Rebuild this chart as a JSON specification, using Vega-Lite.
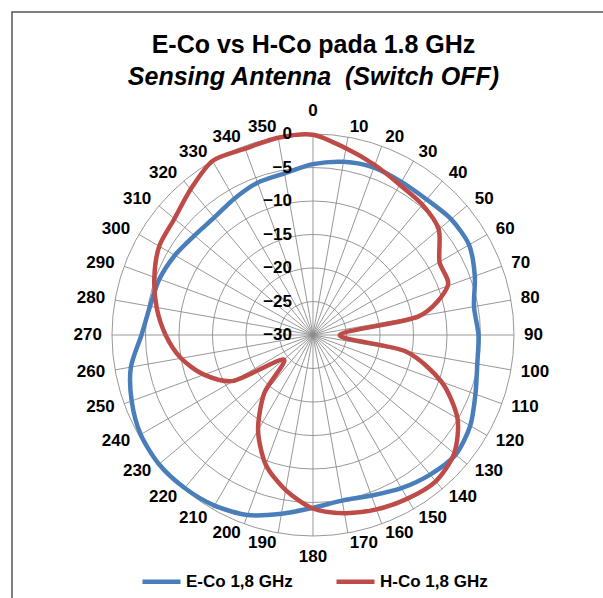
{
  "$schema": "https://vega.github.io/schema/vega-lite/v6.json",
  "autosize": "none",
  "width": 593,
  "height": 588,
  "padding": {"left": 12, "top": 12, "right": 0, "bottom": 0},
  "background": "white",
  "config": {
    "font": "Liberation Sans",
    "view": {"stroke": "#555555", "strokeWidth": 1.5}
  },
  "title": {
    "text": "E-Co vs H-Co pada 1.8 GHz",
    "subtitle": "Sensing Antenna\u00a0 (Switch OFF)",
    "orient": "top",
    "anchor": "middle",
    "frame": "group",
    "offset": -78,
    "dx": 5,
    "fontSize": 25,
    "fontWeight": "bold",
    "color": "#000000",
    "subtitleFontSize": 25,
    "subtitleFontWeight": "bold",
    "subtitleFontStyle": "italic",
    "subtitleColor": "#000000",
    "subtitlePadding": 7
  },
  "datasets": {
    "rings": [
      {"v": -30}, {"v": -25}, {"v": -20}, {"v": -15}, {"v": -10}, {"v": -5}, {"v": 0}
    ],
    "angles": [
      {"a": 0}, {"a": 10}, {"a": 20}, {"a": 30}, {"a": 40}, {"a": 50}, {"a": 60}, {"a": 70}, {"a": 80},
      {"a": 90}, {"a": 100}, {"a": 110}, {"a": 120}, {"a": 130}, {"a": 140}, {"a": 150}, {"a": 160}, {"a": 170},
      {"a": 180}, {"a": 190}, {"a": 200}, {"a": 210}, {"a": 220}, {"a": 230}, {"a": 240}, {"a": 250}, {"a": 260},
      {"a": 270}, {"a": 280}, {"a": 290}, {"a": 300}, {"a": 310}, {"a": 320}, {"a": 330}, {"a": 340}, {"a": 350}
    ],
    "pattern": [
      {"angle": 0, "series": "E-Co 1,8 GHz", "value": -4.5},
      {"angle": 10, "series": "E-Co 1,8 GHz", "value": -3.75},
      {"angle": 20, "series": "E-Co 1,8 GHz", "value": -3.4},
      {"angle": 30, "series": "E-Co 1,8 GHz", "value": -3.6},
      {"angle": 40, "series": "E-Co 1,8 GHz", "value": -3.6},
      {"angle": 50, "series": "E-Co 1,8 GHz", "value": -3.1},
      {"angle": 60, "series": "E-Co 1,8 GHz", "value": -3.1},
      {"angle": 70, "series": "E-Co 1,8 GHz", "value": -4.3},
      {"angle": 80, "series": "E-Co 1,8 GHz", "value": -5.6},
      {"angle": 90, "series": "E-Co 1,8 GHz", "value": -5.3},
      {"angle": 100, "series": "E-Co 1,8 GHz", "value": -5.1},
      {"angle": 110, "series": "E-Co 1,8 GHz", "value": -4.2},
      {"angle": 120, "series": "E-Co 1,8 GHz", "value": -2.9},
      {"angle": 130, "series": "E-Co 1,8 GHz", "value": -2.2},
      {"angle": 140, "series": "E-Co 1,8 GHz", "value": -2.8},
      {"angle": 150, "series": "E-Co 1,8 GHz", "value": -3.6},
      {"angle": 160, "series": "E-Co 1,8 GHz", "value": -4.5},
      {"angle": 170, "series": "E-Co 1,8 GHz", "value": -4.9},
      {"angle": 180, "series": "E-Co 1,8 GHz", "value": -4.2},
      {"angle": 190, "series": "E-Co 1,8 GHz", "value": -2.9},
      {"angle": 200, "series": "E-Co 1,8 GHz", "value": -1.4},
      {"angle": 210, "series": "E-Co 1,8 GHz", "value": -0.6},
      {"angle": 220, "series": "E-Co 1,8 GHz", "value": -0.2},
      {"angle": 230, "series": "E-Co 1,8 GHz", "value": 0},
      {"angle": 240, "series": "E-Co 1,8 GHz", "value": -0.3},
      {"angle": 250, "series": "E-Co 1,8 GHz", "value": -1.2},
      {"angle": 260, "series": "E-Co 1,8 GHz", "value": -2.4},
      {"angle": 270, "series": "E-Co 1,8 GHz", "value": -4.4},
      {"angle": 280, "series": "E-Co 1,8 GHz", "value": -5.3},
      {"angle": 290, "series": "E-Co 1,8 GHz", "value": -5.6},
      {"angle": 300, "series": "E-Co 1,8 GHz", "value": -6.2},
      {"angle": 310, "series": "E-Co 1,8 GHz", "value": -6.9},
      {"angle": 320, "series": "E-Co 1,8 GHz", "value": -7.1},
      {"angle": 330, "series": "E-Co 1,8 GHz", "value": -6.5},
      {"angle": 340, "series": "E-Co 1,8 GHz", "value": -5.8},
      {"angle": 350, "series": "E-Co 1,8 GHz", "value": -5.5},
      {"angle": 0, "series": "H-Co 1,8 GHz", "value": -0.1},
      {"angle": 10, "series": "H-Co 1,8 GHz", "value": -1.7},
      {"angle": 20, "series": "H-Co 1,8 GHz", "value": -3.0},
      {"angle": 30, "series": "H-Co 1,8 GHz", "value": -4.1},
      {"angle": 40, "series": "H-Co 1,8 GHz", "value": -4.6},
      {"angle": 50, "series": "H-Co 1,8 GHz", "value": -5.5},
      {"angle": 60, "series": "H-Co 1,8 GHz", "value": -8.2},
      {"angle": 70, "series": "H-Co 1,8 GHz", "value": -8.6},
      {"angle": 80, "series": "H-Co 1,8 GHz", "value": -14},
      {"angle": 90, "series": "H-Co 1,8 GHz", "value": -26},
      {"angle": 100, "series": "H-Co 1,8 GHz", "value": -16},
      {"angle": 110, "series": "H-Co 1,8 GHz", "value": -9.6},
      {"angle": 120, "series": "H-Co 1,8 GHz", "value": -5.1},
      {"angle": 130, "series": "H-Co 1,8 GHz", "value": -2.5},
      {"angle": 140, "series": "H-Co 1,8 GHz", "value": -1.5},
      {"angle": 150, "series": "H-Co 1,8 GHz", "value": -1.8},
      {"angle": 160, "series": "H-Co 1,8 GHz", "value": -2.3},
      {"angle": 170, "series": "H-Co 1,8 GHz", "value": -3.0},
      {"angle": 180, "series": "H-Co 1,8 GHz", "value": -4.1},
      {"angle": 190, "series": "H-Co 1,8 GHz", "value": -6.5},
      {"angle": 200, "series": "H-Co 1,8 GHz", "value": -9.4},
      {"angle": 210, "series": "H-Co 1,8 GHz", "value": -13.6},
      {"angle": 220, "series": "H-Co 1,8 GHz", "value": -18.7},
      {"angle": 230, "series": "H-Co 1,8 GHz", "value": -24.3},
      {"angle": 240, "series": "H-Co 1,8 GHz", "value": -16.3},
      {"angle": 250, "series": "H-Co 1,8 GHz", "value": -12.7},
      {"angle": 260, "series": "H-Co 1,8 GHz", "value": -10},
      {"angle": 270, "series": "H-Co 1,8 GHz", "value": -8},
      {"angle": 280, "series": "H-Co 1,8 GHz", "value": -6.3},
      {"angle": 290, "series": "H-Co 1,8 GHz", "value": -4.8},
      {"angle": 300, "series": "H-Co 1,8 GHz", "value": -3.5},
      {"angle": 310, "series": "H-Co 1,8 GHz", "value": -3.0},
      {"angle": 320, "series": "H-Co 1,8 GHz", "value": -1.6},
      {"angle": 330, "series": "H-Co 1,8 GHz", "value": 0},
      {"angle": 340, "series": "H-Co 1,8 GHz", "value": -0.4},
      {"angle": 350, "series": "H-Co 1,8 GHz", "value": -0.1}
    ]
  },
  "layer": [
    {
      "data": {"name": "rings"},
      "transform": [{"filter": "datum.v > -30"}, {"calculate": "datum.v + 30", "as": "rr"}],
      "mark": {"type": "point", "shape": "circle", "filled": false, "stroke": "#8c8c8c", "strokeWidth": 0.9, "opacity": 1},
      "encoding": {
        "x": {"datum": 0, "type": "quantitative", "scale": {"domain": [-44.925, 43.582], "nice": false, "zero": false}, "axis": null},
        "y": {"datum": 0, "type": "quantitative", "scale": {"domain": [-39.552, 48.209], "nice": false, "zero": false}, "axis": null},
        "size": {"field": "rr", "type": "quantitative", "scale": {"type": "pow", "exponent": 2, "domain": [0, 30], "range": [0, 161604]}, "legend": null}
      }
    },
    {
      "data": {"name": "angles"},
      "transform": [
        {"calculate": "30 * sin(datum.a * PI / 180)", "as": "sx"},
        {"calculate": "30 * cos(datum.a * PI / 180)", "as": "sy"}
      ],
      "mark": {"type": "rule", "stroke": "#8c8c8c", "strokeWidth": 0.9},
      "encoding": {
        "x": {"field": "sx", "type": "quantitative"},
        "y": {"field": "sy", "type": "quantitative"},
        "x2": {"datum": 0},
        "y2": {"datum": 0}
      }
    },
    {
      "data": {"name": "pattern"},
      "transform": [
        {"calculate": "(datum.value + 30) * sin(datum.angle * PI / 180)", "as": "px"},
        {"calculate": "(datum.value + 30) * cos(datum.angle * PI / 180)", "as": "py"}
      ],
      "mark": {"type": "line", "interpolate": "cardinal-closed", "tension": 0.2, "strokeWidth": 4.5, "strokeJoin": "round", "strokeCap": "round"},
      "encoding": {
        "x": {"field": "px", "type": "quantitative"},
        "y": {"field": "py", "type": "quantitative"},
        "order": {"field": "angle", "type": "quantitative"},
        "color": {
          "field": "series",
          "type": "nominal",
          "scale": {"domain": ["E-Co 1,8 GHz", "H-Co 1,8 GHz"], "range": ["#4A7EBB", "#BE4B48"]},
          "legend": {
            "title": null,
            "orient": "none",
            "direction": "horizontal",
            "legendX": 128,
            "legendY": 548,
            "symbolType": "stroke",
            "symbolSize": 1444,
            "symbolStrokeWidth": 4.5,
            "labelFontSize": 17,
            "labelFontWeight": "bold",
            "labelColor": "#000000",
            "labelOffset": 3,
            "columnPadding": 34,
            "padding": 0
          }
        }
      }
    },
    {
      "data": {"name": "rings"},
      "transform": [{"calculate": "datum.v + 30", "as": "rr"}],
      "mark": {"type": "text", "align": "right", "baseline": "middle", "dx": -21, "fontSize": 17, "fontWeight": "bold", "color": "#000000"},
      "encoding": {
        "x": {"datum": 0},
        "y": {"field": "rr", "type": "quantitative"},
        "text": {"field": "v", "type": "quantitative"}
      }
    },
    {
      "data": {"name": "angles"},
      "transform": [
        {"filter": "datum.a > 0 && datum.a < 180"},
        {"calculate": "31.5 * sin(datum.a * PI / 180)", "as": "lx"},
        {"calculate": "31.5 * cos(datum.a * PI / 180)", "as": "ly"}
      ],
      "mark": {"type": "text", "align": "left", "baseline": "middle", "fontSize": 17, "fontWeight": "bold", "color": "#000000"},
      "encoding": {
        "x": {"field": "lx", "type": "quantitative"},
        "y": {"field": "ly", "type": "quantitative"},
        "text": {"field": "a", "type": "quantitative"}
      }
    },
    {
      "data": {"name": "angles"},
      "transform": [
        {"filter": "datum.a > 180"},
        {"calculate": "31.5 * sin(datum.a * PI / 180)", "as": "lx"},
        {"calculate": "31.5 * cos(datum.a * PI / 180)", "as": "ly"}
      ],
      "mark": {"type": "text", "align": "right", "baseline": "middle", "fontSize": 17, "fontWeight": "bold", "color": "#000000"},
      "encoding": {
        "x": {"field": "lx", "type": "quantitative"},
        "y": {"field": "ly", "type": "quantitative"},
        "text": {"field": "a", "type": "quantitative"}
      }
    },
    {
      "data": {"name": "angles"},
      "transform": [
        {"filter": "datum.a == 0"},
        {"calculate": "32.1", "as": "ly"}
      ],
      "mark": {"type": "text", "align": "center", "baseline": "bottom", "fontSize": 17, "fontWeight": "bold", "color": "#000000"},
      "encoding": {
        "x": {"datum": 0},
        "y": {"field": "ly", "type": "quantitative"},
        "text": {"field": "a", "type": "quantitative"}
      }
    },
    {
      "data": {"name": "angles"},
      "transform": [
        {"filter": "datum.a == 180"},
        {"calculate": "-31.9", "as": "ly"}
      ],
      "mark": {"type": "text", "align": "center", "baseline": "top", "fontSize": 17, "fontWeight": "bold", "color": "#000000"},
      "encoding": {
        "x": {"datum": 0},
        "y": {"field": "ly", "type": "quantitative"},
        "text": {"field": "a", "type": "quantitative"}
      }
    }
  ]
}
